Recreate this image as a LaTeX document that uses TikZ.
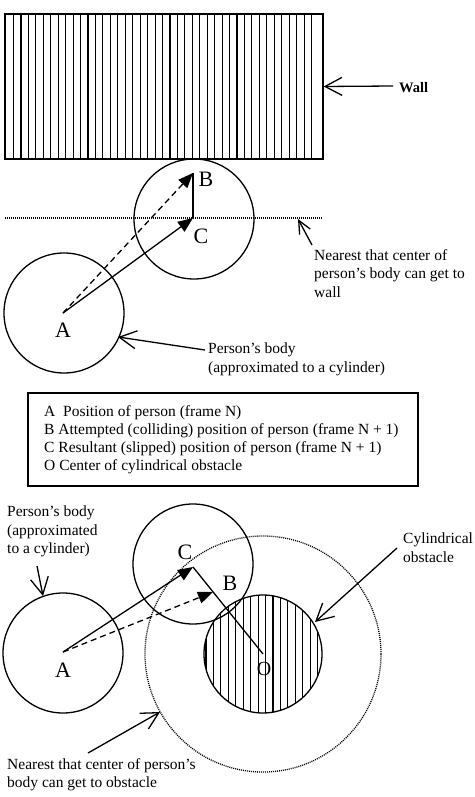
\documentclass[tikz,border=0pt]{standalone}
\usepackage{fontspec}
\setmainfont{Liberation Serif}
\usetikzlibrary{arrows.meta}
\tikzset{
  ln/.style={line width=1.3pt},
  solidarrow/.style={ln,-{Triangle[length=15pt,width=12pt]}},
  dasharrow/.style={ln,dash pattern=on 6pt off 4pt,-{Triangle[length=15pt,width=12pt]}},
  pointer/.style={ln,-{Straight Barb[length=17pt,width=18pt,line width=1.3pt]}},
  body/.style={circle,draw,line width=1.3pt,minimum size=120pt,inner sep=0pt},
  nearline/.style={line width=1.3pt,dash pattern=on 1pt off 1pt},
  ptlabel/.style={font=\fontsize{22}{24}\selectfont,inner sep=0pt},
  note/.style={font=\fontsize{15.5}{18.5}\selectfont,align=left,inner sep=0pt},
  hatch/.style={line width=1.1pt}
}
\begin{document}
\begin{tikzpicture}[x=1pt,y=-1pt]
\useasboundingbox (0,0) rectangle (474,797);
% ---------- Wall ----------
\begin{scope}
\foreach \i in {0,...,40} {
  \draw[hatch] ({13.5+7.45*\i},14) -- ({13.5+7.45*\i},159);
}
\end{scope}
\node[draw,line width=1.3pt,minimum width=318pt,minimum height=145pt,inner sep=0pt] (wall) at (164,86.5) {};
\coordinate (wallpt) at (393,86);
\node[anchor=west,inner sep=0pt,font=\fontsize{14.5}{16}\selectfont\bfseries] (walltxt) at (399,88) {Wall};
\draw[pointer] (wallpt) -- (wall.east);
% ---------- top scene ----------
\coordinate (A1) at (63,313);
\coordinate (C1) at (193,218);
\coordinate (B1) at (193,173);
\node[body] (bodyA1) at (64,313) {};
\node[body] (bodyC1) at (194,219) {};
\coordinate (nl1) at (5,218);
\coordinate (nl2) at (323,218);
\draw[nearline] (nl1) -- (nl2);
\draw[ln] (C1) -- (B1);
\draw[dasharrow] (A1) -- (B1);
\draw[solidarrow] (A1) -- (C1);
\node[ptlabel] (labA1) at (63,330) {A};
\node[ptlabel] (labB1) at (206,179) {B};
\node[ptlabel] (labC1) at (201,236) {C};
\node[note,anchor=north west] (near1) at (314,249) {Nearest that center of\\person’s body can get to\\wall};
\coordinate (near1s) at (312,245);
\coordinate (near1e) at (298,219);
\draw[ln,-{Straight Barb[length=13pt,width=12pt,line width=1.3pt]}] (near1s) -- (near1e);
\node[note,anchor=north west] (pb1) at (208,343) {Person’s body\\(approximated to a cylinder)};
\coordinate (pb1s) at (205,350);
\coordinate (pb1e) at (118,337);
\draw[pointer] (pb1s) -- (pb1e);
% ---------- legend ----------
\node[draw,line width=1.6pt,minimum width=390pt,minimum height=93pt,inner sep=0pt] (legend) at (223,439.5) {};
\node[anchor=west,inner sep=0pt,align=left,font=\fontsize{15.5}{18}\selectfont] (legtext) at (44,440) {A\ \ Position of person (frame N)\\B Attempted (colliding) position of person (frame N + 1)\\C Resultant (slipped) position of person (frame N + 1)\\O Center of cylindrical obstacle};
% ---------- bottom scene ----------
\coordinate (A2) at (63,652);
\coordinate (C2) at (193,567);
\coordinate (B2) at (213,592);
\coordinate (O2) at (263,654);
\begin{scope}
\clip (O2) circle[radius=59pt];
\foreach \i in {0,...,16} {
  \draw[hatch] ({198.5+7.45*\i},590) -- ({198.5+7.45*\i},720);
}
\end{scope}
\node[body,minimum size=118pt] (obst) at (O2) {};
\node[circle,minimum size=236pt,inner sep=0pt,draw,nearline] (reach) at (O2) {};
\node[body] (bodyA2) at (63,653) {};
\node[body] (bodyC2) at (193,564) {};
\draw[ln] (C2) -- (O2);
\draw[dasharrow] (A2) -- (B2);
\draw[solidarrow] (A2) -- (C2);
\node[ptlabel] (labA2) at (63,670) {A};
\node[ptlabel] (labB2) at (230,583) {B};
\node[ptlabel] (labC2) at (185,552) {C};
\node[ptlabel,font=\fontsize{20}{22}\selectfont] (labO2) at (264,669) {O};
\node[note,anchor=north west] (pb2) at (7,506) {Person’s body\\(approximated\\to a cylinder)};
\coordinate (pb2s) at (37,566);
\coordinate (pb2e) at (43,596);
\draw[pointer] (pb2s) -- (pb2e);
\node[note,anchor=north west] (cyl) at (403,533) {Cylindrical\\obstacle};
\coordinate (cyls) at (397,548);
\coordinate (cyle) at (315,622);
\draw[pointer] (cyls) -- (cyle);
\node[note,anchor=north west] (near2) at (7,758) {Nearest that center of person’s\\body can get to obstacle};
\coordinate (near2s) at (88,753);
\coordinate (near2e) at (160,712);
\draw[pointer] (near2s) -- (near2e);
\end{tikzpicture}
\end{document}
